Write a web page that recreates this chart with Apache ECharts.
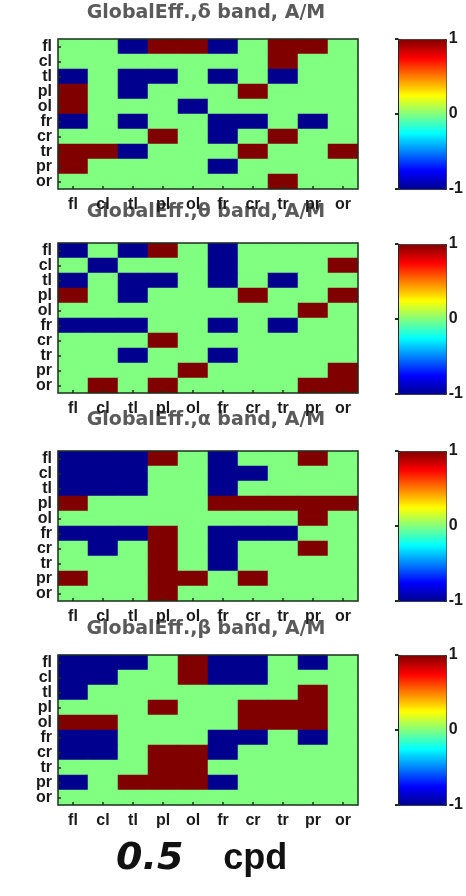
<!DOCTYPE html>
<html>
<head>
<meta charset="utf-8">
<script src="https://cdn.jsdelivr.net/npm/echarts@6/dist/echarts.min.js"></script>
<style>
  html, body { margin: 0; padding: 0; background: #fff; }
  #chart { width: 466px; height: 896px; }
</style>
</head>
<body>
<div id="chart"></div>
<script>
// regions, same order on both axes
const regions = ['fl', 'cl', 'tl', 'pl', 'ol', 'fr', 'cr', 'tr', 'pr', 'or'];
const bands = ['δ', 'θ', 'α', 'β'];
const cbTicks = [-1, 0, 1];

// rows top→bottom (fl..or), columns left→right (fl..or)
const deltaRows = [
  [0, 0, -1, 1, 1, -1, 0, 1, 1, 0],
  [0, 0, 0, 0, 0, 0, 0, 1, 0, 0],
  [-1, 0, -1, -1, 0, -1, 0, -1, 0, 0],
  [1, 0, -1, 0, 0, 0, 1, 0, 0, 0],
  [1, 0, 0, 0, -1, 0, 0, 0, 0, 0],
  [-1, 0, -1, 0, 0, -1, -1, 0, -1, 0],
  [0, 0, 0, 1, 0, -1, 0, 1, 0, 0],
  [1, 1, -1, 0, 0, 0, 1, 0, 0, 1],
  [1, 0, 0, 0, 0, -1, 0, 0, 0, 0],
  [0, 0, 0, 0, 0, 0, 0, 1, 0, 0]
];
const thetaRows = [
  [-1, 0, -1, 1, 0, -1, 0, 0, 0, 0],
  [0, -1, 0, 0, 0, -1, 0, 0, 0, 1],
  [-1, 0, -1, -1, 0, -1, 0, -1, 0, 0],
  [1, 0, -1, 0, 0, 0, 1, 0, 0, 1],
  [0, 0, 0, 0, 0, 0, 0, 0, 1, 0],
  [-1, -1, -1, 0, 0, -1, 0, -1, 0, 0],
  [0, 0, 0, 1, 0, 0, 0, 0, 0, 0],
  [0, 0, -1, 0, 0, -1, 0, 0, 0, 0],
  [0, 0, 0, 0, 1, 0, 0, 0, 0, 1],
  [0, 1, 0, 1, 0, 0, 0, 0, 1, 1]
];
const alphaRows = [
  [-1, -1, -1, 1, 0, -1, 0, 0, 1, 0],
  [-1, -1, -1, 0, 0, -1, -1, 0, 0, 0],
  [-1, -1, -1, 0, 0, -1, 0, 0, 0, 0],
  [1, 0, 0, 0, 0, 1, 1, 1, 1, 1],
  [0, 0, 0, 0, 0, 0, 0, 0, 1, 0],
  [-1, -1, -1, 1, 0, -1, -1, -1, 0, 0],
  [0, -1, 0, 1, 0, -1, 0, 0, 1, 0],
  [0, 0, 0, 1, 0, -1, 0, 0, 0, 0],
  [1, 0, 0, 1, 1, 0, 1, 0, 0, 0],
  [0, 0, 0, 1, 0, 0, 0, 0, 0, 0]
];
const betaRows = [
  [-1, -1, -1, 0, 1, -1, -1, 0, -1, 0],
  [-1, -1, 0, 0, 1, -1, -1, 0, 0, 0],
  [-1, 0, 0, 0, 0, 0, 0, 0, 1, 0],
  [0, 0, 0, 1, 0, 0, 1, 1, 1, 0],
  [1, 1, 0, 0, 0, 0, 1, 1, 1, 0],
  [-1, -1, 0, 0, 0, -1, -1, 0, -1, 0],
  [-1, -1, 0, 1, 1, -1, 0, 0, 0, 0],
  [0, 0, 0, 1, 1, 0, 0, 0, 0, 0],
  [-1, 0, 1, 1, 1, -1, 0, 0, 0, 0],
  [0, 0, 0, 0, 0, 0, 0, 0, 0, 0]
];
const panels = [deltaRows, thetaRows, alphaRows, betaRows];

// jet colormap
const jet = ['#00008f', '#0000ff', '#0080ff', '#00ffff', '#80ff80', '#ffff00', '#ff8000', '#ff0000', '#800000'];

// whole-pixel cells (30 x 15) so neighbouring cells join without seams
const plotTops = [39, 243, 451, 655];
const plotH = 150;
const plotLeft = 58, plotW = 300;
const cbLeft = 398, cbW = 48, cbH = 150;
const cbTops = [39, 244, 451, 655];
const titleTops = [4, 203, 411, 620];

const toCells = rows => {
  const out = [];
  rows.forEach((row, y) => row.forEach((v, x) => out.push([x, y, v])));
  return out;
};

const grid = [], xAxis = [], yAxis = [], series = [], visualMap = [], title = [];
const labelFont = { fontFamily: 'Liberation Sans', fontWeight: 'bold', color: '#1a1a1a' };
const tickStyle = { color: '#1f2f1f', width: 1.5 };

panels.forEach((rows, i) => {
  // heatmap grid
  grid.push({ left: plotLeft, width: plotW, top: plotTops[i], height: plotH, show: true,
    backgroundColor: 'transparent', borderColor: '#1f2f1f', borderWidth: 1.5, z: 5 });
  xAxis.push({ type: 'category', gridIndex: 2 * i, data: regions, z: 6,
    axisLine: { show: false },
    axisTick: { show: true, inside: true, alignWithLabel: true, length: 3, lineStyle: tickStyle },
    axisLabel: Object.assign({ fontSize: 16, margin: 8, interval: 0 }, labelFont) });
  yAxis.push({ type: 'category', gridIndex: 2 * i, data: regions, inverse: true, z: 6,
    axisLine: { show: false },
    axisTick: { show: true, inside: true, alignWithLabel: true, length: 3, lineStyle: tickStyle },
    axisLabel: Object.assign({ fontSize: 16, margin: 6, interval: 0, lineHeight: 14 }, labelFont) });
  series.push({ type: 'heatmap', xAxisIndex: 2 * i, yAxisIndex: 2 * i,
    data: toCells(rows), itemStyle: { borderWidth: 0 }, emphasis: { disabled: true } });

  // colorbar grid (axis for 1 / 0 / -1)
  grid.push({ left: cbLeft, width: cbW, top: cbTops[i], height: cbH, show: false });
  xAxis.push({ type: 'value', gridIndex: 2 * i + 1, show: false, min: 0, max: 1 });
  yAxis.push({ type: 'value', gridIndex: 2 * i + 1, min: cbTicks[0], max: cbTicks[2], interval: 1,
    position: 'right', z: 6,
    splitLine: { show: false },
    axisLine: { show: true, lineStyle: { color: '#222', width: 1 } },
    axisTick: { show: true, inside: true, length: 3, lineStyle: { color: '#1f2f1f', width: 2 } },
    axisLabel: Object.assign({ fontSize: 16, margin: 5 }, labelFont) });

  visualMap.push({ type: 'continuous', min: -1, max: 1, seriesIndex: i, calculable: false,
    left: cbLeft, top: cbTops[i], itemWidth: cbW, itemHeight: cbH, padding: 0,
    borderColor: '#222', borderWidth: 1, hoverLink: false, showLabel: false,
    inRange: { color: jet } });

  title.push({ text: 'GlobalEff.,' + bands[i] + ' band, A/M', left: 206, top: titleTops[i], textAlign: 'center',
    padding: 0,
    textStyle: { fontFamily: 'DejaVu Sans', fontWeight: 'bold', fontSize: 19, color: '#5a5a5a' } });
});

title.push({ text: '{a|0.5}{b|cpd}', left: 116, top: 840, padding: 0,
  textStyle: { rich: {
    a: { fontFamily: 'DejaVu Sans', fontWeight: 'bold', fontStyle: 'italic', fontSize: 38, color: '#111' },
    b: { fontFamily: 'Liberation Sans', fontWeight: 'bold', fontSize: 36, color: '#111', padding: [0, 0, 0, 40] }
  } } });

const chart = echarts.init(document.getElementById('chart'));
chart.setOption({
  backgroundColor: '#fff',
  animation: false,
  title, grid, xAxis, yAxis, visualMap, series
});
</script>
</body>
</html>
